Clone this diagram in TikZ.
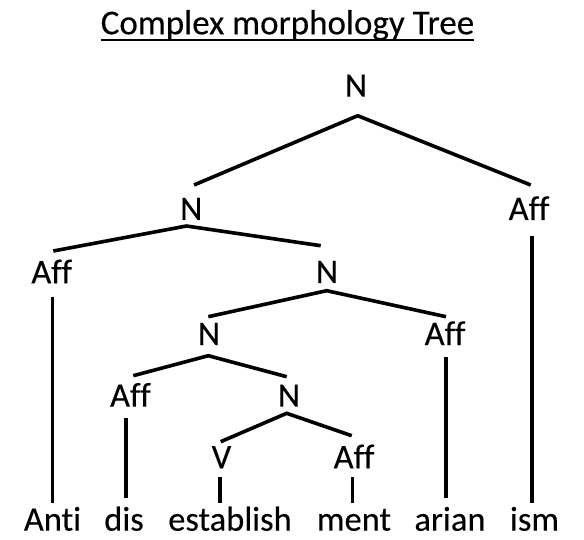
\documentclass[tikz,border=0pt]{standalone}
\usepackage{fontspec}
\setmainfont[Ligatures=NoCommon,FakeBold=0.2]{Carlito}
\begin{document}
\begin{tikzpicture}[x=1pt,y=-1pt,
  lbl/.style={anchor=base,inner sep=0pt,font=\fontsize{34.5}{40}\selectfont},
  ttl/.style={anchor=base,inner sep=0pt,font=\fontsize{35}{42}\selectfont},
  edge/.style={line width=3.6pt,line join=miter,line cap=butt},
  uline/.style={line width=2pt}]
\useasboundingbox (0,0) rectangle (584,540);
% title
\node[ttl] (title) at (287.5,34.3) {Complex morphology Tree};
\draw[uline] ([yshift=-5.7pt]title.base west) -- ([yshift=-5.7pt]title.base east);
% labels
\node[lbl] (nTop) at (356,96.7) {N};
\node[lbl] (n2) at (191.3,220) {N};
\node[lbl] (affR) at (529,220) {Aff};
\node[lbl] (affL) at (51.7,283.3) {Aff};
\node[lbl] (n3) at (327,283) {N};
\node[lbl] (n4) at (209,345) {N};
\node[lbl] (affA) at (445,345) {Aff};
\node[lbl] (affD) at (130.4,406.7) {Aff};
\node[lbl] (n5) at (289,406.7) {N};
\node[lbl] (v) at (221.5,468.3) {V};
\node[lbl] (affM) at (354,468.3) {Aff};
% words
\node[lbl] (anti) at (52.5,530.7) {Anti};
\node[lbl] (dis) at (124,530.7) {dis};
\node[lbl] (est) at (230,530.7) {establish};
\node[lbl] (ment) at (354,530.7) {ment};
\node[lbl] (arian) at (450,530.7) {arian};
\node[lbl] (ism) at (534.5,530.7) {ism};
% connector end points
\coordinate (cTop) at (357.7,115.7);
\coordinate (cTopL) at (194,185);
\coordinate (cTopR) at (530.7,185);
\coordinate (c2) at (186.5,226);
\coordinate (c2L) at (53.3,251);
\coordinate (c2R) at (320.7,245.7);
\coordinate (cRt) at (531.8,235.7);
\coordinate (cRb) at (531.8,502.7);
\coordinate (cLt) at (52.5,297.3);
\coordinate (cLb) at (52.5,502.7);
\coordinate (c3) at (326.7,290.7);
\coordinate (c3L) at (208.3,316.7);
\coordinate (c3R) at (446,316.7);
\coordinate (cAt) at (445.9,356.7);
\coordinate (cAb) at (445.9,498.3);
\coordinate (c4) at (208.3,355.7);
\coordinate (c4L) at (133.3,375.7);
\coordinate (c4R) at (286.7,376.7);
\coordinate (cDt) at (126,418.3);
\coordinate (cDb) at (126,498.3);
\coordinate (c5) at (286.7,413.3);
\coordinate (c5L) at (220.7,441.7);
\coordinate (c5R) at (351.7,435.7);
\coordinate (cVt) at (220,477.3);
\coordinate (cVb) at (220,502.7);
\coordinate (cMt) at (352.3,477.3);
\coordinate (cMb) at (352.3,502.7);
% connectors
\draw[edge] (cTopL) -- (cTop) -- (cTopR);
\draw[edge] (c2L) -- (c2) -- (c2R);
\draw[edge] (cRt) -- (cRb);
\draw[edge] (cLt) -- (cLb);
\draw[edge] (c3L) -- (c3) -- (c3R);
\draw[edge] (cAt) -- (cAb);
\draw[edge] (c4L) -- (c4) -- (c4R);
\draw[edge] (cDt) -- (cDb);
\draw[edge] (c5L) -- (c5) -- (c5R);
\draw[edge] (cVt) -- (cVb);
\draw[edge] (cMt) -- (cMb);
\end{tikzpicture}
\end{document}
